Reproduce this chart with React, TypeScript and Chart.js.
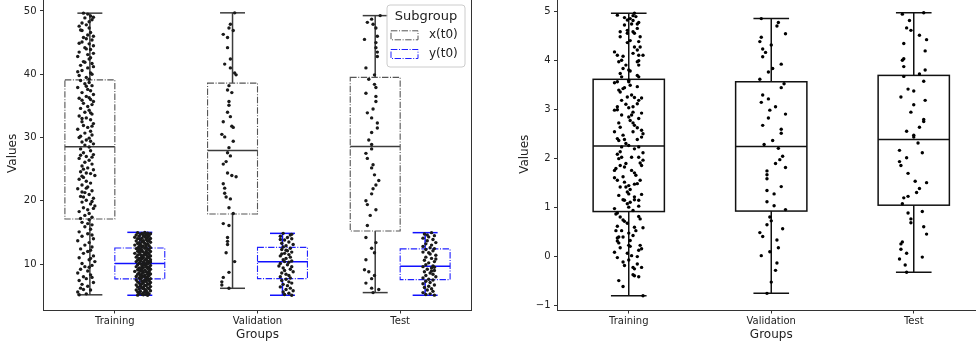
import React, { useEffect, useRef } from 'react';
import { Chart, registerables } from 'chart.js';
Chart.register(...registerables);

const FONT = "'DejaVu Sans', 'Liberation Sans', sans-serif";

const categories = ['Training', 'Validation', 'Test'];
const subgroups = ['x(t0)', 'y(t0)'];
const leftYTicks = [10, 20, 30, 40, 50];
const rightYTicks = [-1, 0, 1, 2, 3, 4, 5];

// box stats: [lower whisker, q1, median, q3, upper whisker]
const leftXStats = [
  [5.15, 17.13, 28.54, 39.11, 49.65],
  [6.18, 17.92, 27.96, 38.6, 49.7],
  [5.5, 15.24, 28.59, 39.5, 49.26],
];
const leftYStats = [
  [5.08, 7.66, 10.08, 12.55, 15.02],
  [5.08, 7.71, 10.39, 12.65, 14.86],
  [5.08, 7.55, 9.65, 12.4, 14.97],
];
const rightStats = [
  [-0.8, 0.92, 2.26, 3.62, 4.97],
  [-0.75, 0.93, 2.25, 3.57, 4.86],
  [-0.32, 1.05, 2.39, 3.7, 4.98],
];

// points: [value, jitter]
const trainXPts = [
  [49.65,-0.02],[49.5,0.01],[49.2,0.03],[48.9,-0.01],[48.6,0.04],[48.1,-0.03],[47.6,-0.05],[47.3,0.02],[47.0,-0.04],[46.6,0.03],[46.2,0.01],[45.8,-0.02],[45.4,0.04],[45.1,-0.03],[44.8,0.02],[44.5,0.05],[44.2,-0.01],[43.9,0.03],[43.5,-0.05],[43.1,0.01],[42.8,-0.06],[42.4,0.02],[42.0,-0.02],[41.7,0.04],[41.4,-0.04],[41.0,0.01],[40.6,-0.03],[40.2,0.03],[39.8,-0.05],[39.5,0.0],[39.2,0.02],
  [49.0,0.05],[48.3,0.02],[47.8,0.0],[46.9,-0.03],[46.0,0.05],[45.6,0.0],[44.9,-0.05],[44.0,0.0],[43.3,0.05],[42.6,0.03],[41.9,-0.01],[41.2,0.05],[40.4,-0.06],[40.0,0.04],
  [39.0,-0.04],[38.7,0.02],[38.5,-0.01],[38.2,0.04],[37.9,-0.06],[37.6,0.01],[37.4,0.03],[37.1,-0.03],[36.8,0.05],[36.5,0.0],[36.2,-0.05],[36.0,0.03],[35.7,0.05],[35.4,-0.02],[35.2,0.04],[34.9,0.01],[34.6,-0.04],[34.3,0.02],[34.0,-0.01],[33.7,0.04],[33.4,-0.05],[33.1,0.0],[32.8,0.03],[32.5,-0.03],[32.2,0.05],[31.9,-0.02],[31.6,0.01],[31.3,-0.06],[31.0,0.03],[30.7,-0.01],[30.4,0.04],[30.2,-0.04],[29.9,0.02],[29.6,0.0],[29.3,-0.03],[29.0,0.05],[28.8,-0.01],[28.5,0.02],
  [28.2,-0.04],[27.9,0.03],[27.6,-0.02],[27.3,0.05],[27.0,0.0],[26.7,-0.05],[26.4,0.02],[26.1,-0.01],[25.8,0.04],[25.5,-0.03],[25.2,0.01],[24.9,0.05],[24.6,-0.04],[24.3,0.03],[24.0,0.06],[23.7,-0.02],[23.4,-0.05],[23.1,0.0],[22.8,0.03],[22.5,-0.03],[22.2,0.01],[21.9,-0.06],[21.6,0.04],[21.3,-0.01],[21.0,0.02],[20.7,-0.04],[20.4,0.05],[20.1,0.0],[19.8,-0.03],[19.5,0.03],[19.2,0.06],[18.9,-0.02],[18.6,0.01],[18.3,-0.05],[18.0,0.02],[17.7,-0.01],[17.4,0.04],[17.2,-0.04],
  [35.9,-0.03],[33.9,0.03],[31.8,0.04],[30.0,-0.05],[26.9,0.04],[25.0,-0.02],[22.0,0.0],[19.9,0.04],[36.3,0.02],[23.9,-0.03],[29.4,0.03],[21.4,-0.03],[27.2,-0.04],[33.0,-0.03],[38.1,0.0],[18.8,0.05],[24.4,0.0],[20.6,-0.02],
  [17.0,0.02],[16.6,-0.03],[16.2,0.04],[15.9,-0.01],[15.5,0.03],[15.1,-0.05],[14.8,0.01],[14.4,-0.03],[14.0,0.05],[13.7,-0.06],[13.4,0.02],[13.0,-0.01],[12.7,0.04],[12.4,-0.04],[12.0,0.01],[11.7,-0.02],[11.3,0.05],[11.0,-0.05],[10.7,0.02],[10.4,0.06],[10.1,-0.03],[9.8,0.04],[9.5,0.02],[9.2,-0.04],[8.9,0.01],[8.6,-0.06],[8.3,0.03],[8.0,-0.02],[7.7,0.0],[7.4,-0.05],[7.1,0.05],[6.8,-0.03],[6.5,0.01],[6.2,-0.04],[5.9,0.03],[5.6,-0.06],[5.3,0.0],[5.15,-0.05],[16.4,0.01],[14.6,0.04],[12.2,0.03],[9.6,-0.01],[7.9,0.04],[6.0,-0.02],[10.9,0.03],
];
const trainYPts = [
  [15.0,0.01],[14.95,-0.04],[14.9,0.03],[14.85,-0.01],[14.8,0.05],[14.7,-0.02],[14.65,0.02],[14.6,-0.05],[14.5,0.0],[14.45,0.04],[14.4,-0.03],[14.3,0.01],[14.25,-0.06],[14.2,0.03],[14.1,-0.01],[14.05,0.05],[14.0,-0.04],[13.9,0.02],[13.85,-0.02],[13.8,0.04],[13.7,0.0],[13.65,-0.05],[13.6,0.03],[13.5,-0.01],[13.45,0.05],[13.4,-0.03],[13.3,0.01],[13.25,-0.04],[13.2,0.03],[13.1,-0.02],[13.05,0.02],[13.0,-0.06],[12.9,0.04],[12.85,0.0],[12.8,-0.03],[12.7,0.02],[12.65,-0.01],[12.6,0.05],[12.55,-0.04],[14.75,0.0],[14.15,0.02],[13.55,0.0],[12.95,-0.02],[13.95,-0.02],[14.55,0.03],
  [12.5,0.01],[12.45,-0.05],[12.4,0.03],[12.3,-0.02],[12.25,0.04],[12.2,-0.01],[12.1,0.02],[12.05,-0.04],[12.0,0.05],[11.9,0.0],[11.85,-0.03],[11.8,0.03],[11.7,-0.06],[11.65,0.01],[11.6,0.04],[11.5,-0.02],[11.45,0.02],[11.4,-0.04],[11.3,0.05],[11.25,-0.01],[11.2,0.03],[11.1,-0.05],[11.05,0.0],[11.0,0.04],[10.9,-0.03],[10.85,0.02],[10.8,-0.01],[10.7,0.05],[10.65,-0.04],[10.6,0.01],[10.5,-0.02],[10.45,0.03],[10.4,-0.05],[10.3,0.0],[10.25,0.04],[10.2,-0.03],[10.1,0.02],[11.95,-0.02],[11.35,0.0],[10.75,0.02],[12.35,-0.03],[11.75,0.02],[10.95,-0.02],[10.35,0.05],
  [10.05,-0.02],[10.0,0.03],[9.9,-0.04],[9.85,0.01],[9.8,0.05],[9.7,-0.01],[9.65,0.02],[9.6,-0.05],[9.5,0.04],[9.45,0.0],[9.4,-0.03],[9.3,0.03],[9.25,-0.01],[9.2,0.05],[9.1,-0.04],[9.05,0.01],[9.0,-0.02],[8.9,0.04],[8.85,-0.06],[8.8,0.02],[8.7,0.0],[8.65,-0.03],[8.6,0.03],[8.5,-0.01],[8.45,0.05],[8.4,-0.04],[8.3,0.01],[8.25,-0.02],[8.2,0.04],[8.1,0.0],[8.05,-0.05],[8.0,0.03],[7.9,-0.01],[7.85,0.02],[7.8,-0.03],[7.7,0.05],[9.95,0.0],[9.35,-0.02],[8.75,0.04],[8.15,-0.02],[9.55,0.02],[8.95,-0.01],[8.35,0.03],[7.95,0.01],
  [7.65,-0.02],[7.6,0.03],[7.5,-0.05],[7.45,0.01],[7.4,0.04],[7.3,-0.01],[7.25,0.02],[7.2,-0.04],[7.1,0.05],[7.05,0.0],[7.0,-0.03],[6.9,0.03],[6.85,-0.01],[6.8,0.04],[6.7,-0.05],[6.65,0.01],[6.6,0.02],[6.5,-0.02],[6.45,0.05],[6.4,-0.04],[6.3,0.0],[6.25,0.03],[6.2,-0.01],[6.1,0.04],[6.05,-0.03],[6.0,0.01],[5.9,-0.05],[5.85,0.02],[5.8,0.05],[5.7,-0.02],[5.65,0.01],[5.6,-0.04],[5.5,0.03],[5.45,0.0],[5.4,-0.03],[5.3,0.04],[5.25,-0.01],[5.2,0.02],[5.1,-0.04],[5.08,0.03],[7.35,0.0],[6.75,-0.02],[6.15,0.0],[5.55,0.02],[5.15,0.0],
];
const valXPts = [
  [49.7,0.04],[47.9,0.01],[47.3,0.0],[46.9,0.03],[46.3,-0.04],[45.8,-0.01],[44.2,-0.01],[42.4,0.01],[41.6,-0.03],[41.0,0.01],[40.2,0.04],[39.9,0.05],[38.2,0.0],[37.5,-0.01],[37.1,0.02],[35.7,0.0],[35.1,0.0],[34.0,-0.01],[33.3,0.01],[32.5,-0.04],[31.8,0.02],[31.6,0.03],[30.5,-0.05],[30.1,-0.03],[29.4,0.03],[28.4,0.0],[27.6,-0.01],[27.1,0.01],[26.2,-0.02],[25.8,-0.04],[24.4,-0.01],[24.0,0.02],[23.8,0.05],[22.7,-0.04],[22.0,-0.03],[21.2,-0.03],[20.6,-0.02],[20.3,0.01],[18.9,0.0],[18.0,0.03],[16.4,-0.04],[16.1,0.0],[14.2,-0.01],[13.6,-0.01],[13.1,-0.01],[11.8,-0.02],[10.4,0.04],[8.7,0.0],[7.9,-0.04],[7.2,-0.05],[6.7,-0.05],[6.18,0.0],
];
const valYPts = [
  [14.86,-0.02],[14.6,0.03],[14.4,-0.04],[14.2,0.01],[14.0,0.04],[13.8,-0.01],[13.5,0.02],[13.3,-0.03],[13.1,0.05],[12.9,0.0],[12.7,-0.02],[14.7,0.04],[13.9,-0.04],
  [12.5,0.03],[12.3,-0.03],[12.1,0.01],[11.9,0.04],[11.7,-0.01],[11.5,0.02],[11.3,-0.04],[11.1,0.03],[10.9,0.0],[10.7,-0.02],[10.5,0.04],[11.6,-0.03],[12.2,0.0],[10.4,-0.01],
  [10.3,0.02],[10.1,-0.04],[9.9,0.01],[9.6,0.04],[9.4,-0.02],[9.2,0.03],[9.0,-0.01],[8.8,0.05],[8.6,-0.03],[8.4,0.0],[8.2,0.02],[8.0,-0.04],[7.8,0.03],[9.7,-0.05],
  [7.6,0.0],[7.4,-0.03],[7.2,0.02],[7.0,0.04],[6.8,-0.02],[6.6,0.01],[6.4,-0.04],[6.2,0.03],[6.0,0.0],[5.8,0.05],[5.6,-0.02],[5.4,0.02],[5.2,-0.01],[5.08,0.04],
];
const testXPts = [
  [49.26,0.06],[48.7,0.0],[47.9,0.01],[47.3,0.03],[45.5,-0.05],[45.0,0.03],[44.2,0.03],[43.5,0.04],[42.8,0.04],[41.0,-0.04],[39.9,0.02],[38.4,0.02],[37.9,0.03],[37.0,-0.04],[36.5,0.03],[35.7,0.03],[33.9,-0.03],[33.1,0.0],[32.3,0.04],[31.5,0.04],[30.8,0.0],[28.9,0.0],[28.2,0.0],[27.5,-0.04],[26.7,-0.03],[25.7,0.01],[25.2,0.0],[23.2,0.05],[22.5,0.03],[21.9,0.01],[21.1,0.0],[20.0,-0.04],[19.4,-0.03],[17.7,-0.01],[16.1,-0.03],[14.2,-0.04],[13.4,0.03],[11.8,0.02],[10.7,-0.04],[9.1,-0.05],[8.2,0.02],[7.7,0.0],[7.0,-0.04],[6.2,0.0],[6.0,0.05],
  [48.2,-0.03],[46.0,0.04],[39.2,-0.02],[34.5,0.01],[29.6,-0.02],[24.1,0.02],[18.6,0.03],[12.5,0.0],[8.8,-0.02],[5.5,0.01],
];
const testYPts = [
  [14.97,0.02],[14.75,-0.03],[14.5,0.04],[14.3,0.0],[14.1,-0.04],[13.9,0.03],[13.7,-0.01],[13.4,0.05],[13.2,-0.02],[13.0,0.02],[12.8,-0.04],[12.6,0.01],[12.45,0.04],[14.6,-0.01],
  [12.3,-0.02],[12.1,0.03],[11.9,-0.04],[11.6,0.01],[11.4,0.05],[11.1,-0.02],[10.9,0.02],[10.6,-0.03],[10.4,0.04],[10.2,0.0],[9.9,-0.02],[9.7,0.03],[11.8,0.0],[10.8,0.05],
  [9.6,-0.04],[9.4,0.02],[9.2,-0.01],[9.0,0.04],[8.8,-0.03],[8.6,0.01],[8.4,0.03],[8.2,-0.02],[8.0,0.05],[7.8,-0.04],[7.6,0.0],[8.9,0.02],[9.5,0.04],
  [7.5,0.03],[7.3,-0.02],[7.1,0.01],[6.9,-0.04],[6.7,0.04],[6.5,0.0],[6.3,-0.03],[6.1,0.02],[5.9,-0.01],[5.7,0.03],[5.5,-0.04],[5.3,0.01],[5.1,0.04],[5.2,-0.02],
];
const rightTrainPts = [
  [4.93,-0.08],[4.88,-0.03],[4.92,0.03],[4.97,0.04],[4.86,0.01],[4.83,-0.01],[4.75,0.06],[4.73,-0.03],[4.75,0.02],[4.78,0.07],[4.59,-0.06],[4.56,-0.01],[4.59,0.03],[4.66,0.06],[4.56,0.04],[4.49,-0.06],[4.49,0.08],[4.41,0.01],[4.37,-0.01],[4.39,0.07],[4.28,0.04],[4.28,0.08],[4.22,0.06],[4.15,0.03],[4.11,0.07],[4.11,0.1],[4.18,-0.1],[4.11,-0.08],[4.09,-0.04],[3.98,-0.07],[4.01,-0.05],[3.91,-0.02],[3.98,0.06],[3.91,0.07],[3.81,0.0],[3.79,0.01],[3.84,-0.04],[3.74,-0.06],[3.7,0.06],[3.67,0.07],[3.6,0.0],[3.55,-0.1],[3.57,-0.08],[4.9,0.05],[4.82,0.03],[4.62,-0.01],[4.0,0.07],[3.67,-0.05],
  [3.4,-0.07],[3.36,-0.06],[3.43,-0.04],[3.45,-0.03],[3.3,0.02],[3.25,0.04],[3.24,0.09],[3.12,0.06],[3.04,0.0],[3.06,0.03],[3.06,-0.08],[3.0,-0.08],[2.95,0.03],[2.93,0.09],[2.89,-0.05],[2.85,0.0],[2.89,0.02],[2.78,0.01],[2.73,0.03],[2.68,0.04],[2.63,0.06],[2.73,-0.07],[2.58,0.09],[2.51,0.1],[2.55,-0.1],[2.44,0.09],[2.41,-0.08],[2.37,-0.07],[2.48,-0.04],[2.31,-0.02],[2.27,0.0],[2.39,-0.03],[2.39,0.06],[3.19,-0.05],[3.26,-0.01],[3.47,0.06],[3.5,0.01],[2.99,-0.1],[2.82,0.07],[2.64,-0.06],[2.55,0.03],[3.11,-0.02],[3.19,0.07],[3.57,0.0],
  [2.24,0.07],[2.2,0.04],[2.12,0.1],[2.09,-0.08],[2.14,-0.06],[2.0,-0.07],[2.03,-0.05],[2.03,0.07],[1.91,0.08],[1.86,0.09],[1.9,-0.02],[1.83,-0.03],[1.76,-0.1],[1.8,-0.09],[1.71,0.04],[1.66,0.05],[1.63,-0.04],[1.61,-0.1],[1.56,0.08],[1.49,0.06],[1.48,0.04],[1.45,0.0],[1.52,-0.03],[1.42,-0.02],[1.37,0.01],[1.32,-0.01],[1.28,0.0],[1.27,0.09],[1.22,0.04],[1.16,-0.04],[1.15,-0.03],[1.11,0.01],[1.08,-0.01],[1.16,0.04],[1.03,0.07],[0.94,0.03],[1.25,-0.07],[1.42,-0.06],[1.76,0.02],[1.56,-0.08],[1.97,0.1],[2.24,-0.05],[2.03,0.02],[1.86,-0.06],[1.15,0.07],[1.01,0.0],
  [0.98,-0.1],[0.89,-0.08],[0.87,-0.09],[0.75,-0.04],[0.72,-0.03],[0.68,-0.01],[0.82,0.07],[0.77,0.08],[0.62,-0.08],[0.53,-0.09],[0.53,-0.05],[0.53,0.05],[0.59,0.1],[0.43,0.03],[0.48,0.0],[0.38,-0.08],[0.4,-0.07],[0.32,-0.08],[0.28,-0.07],[0.4,-0.04],[0.23,0.0],[0.21,0.01],[0.23,0.08],[0.16,0.09],[0.13,0.07],[0.09,-0.1],[0.07,-0.01],[0.0,0.06],[-0.02,-0.08],[-0.07,0.0],[-0.11,-0.04],[-0.15,0.06],[-0.18,-0.03],[-0.22,0.09],[-0.25,0.04],[-0.22,0.03],[-0.39,0.04],[-0.41,0.07],[-0.37,0.03],[-0.49,-0.07],[-0.61,-0.04],[-0.8,0.1],[0.02,0.02],[0.18,-0.06],[0.33,0.01],[0.81,-0.06],[0.6,0.04],
];
const rightValPts = [
  [4.86,-0.07],[4.78,0.05],[4.71,0.04],[4.55,0.1],[4.48,-0.07],[4.39,-0.08],[4.32,0.0],[4.24,-0.06],[4.17,-0.04],[4.08,-0.06],[3.93,0.07],[3.84,0.01],[3.77,-0.02],[3.62,-0.08],[3.53,0.09],[3.45,0.07],[3.3,-0.06],[3.22,-0.02],[3.15,-0.07],[3.06,0.03],[2.99,-0.01],[2.91,0.1],[2.83,-0.02],[2.68,-0.06],[2.6,0.07],[2.52,0.07],[2.37,0.01],[2.29,-0.05],[2.21,0.05],[2.05,0.08],[1.98,0.06],[1.9,0.03],[1.82,0.1],[1.75,-0.03],[1.67,-0.03],[1.59,-0.03],[1.43,0.07],[1.35,-0.03],[1.28,0.02],[1.12,-0.03],[1.04,0.02],[0.96,0.1],[0.81,-0.01],[0.73,0.0],[0.65,-0.03],[0.57,0.08],[0.49,-0.08],[0.41,-0.06],[0.34,0.04],[0.18,0.05],[0.1,-0.01],[0.02,-0.07],[-0.13,0.04],[-0.28,0.03],[-0.52,0.0],[-0.75,-0.03],
];
const rightTestPts = [
  [4.95,-0.08],[4.98,0.07],[4.82,-0.03],[4.67,-0.05],[4.62,-0.02],[4.52,0.04],[4.43,0.09],[4.35,-0.07],[4.2,0.08],[4.04,-0.07],[4.01,-0.08],[3.88,-0.07],[3.81,0.08],[3.73,0.04],[3.68,-0.07],[3.58,0.07],[3.42,-0.04],[3.38,0.0],[3.26,-0.09],[3.19,0.08],[3.1,0.0],[2.95,-0.02],[2.8,0.07],[2.76,0.07],[2.64,0.04],[2.56,-0.05],[2.48,0.0],[2.44,0.0],[2.32,0.03],[2.17,-0.1],[2.12,0.06],[2.02,-0.05],[1.94,-0.1],[1.86,-0.09],[1.7,-0.04],[1.54,0.01],[1.51,0.09],[1.39,0.04],[1.31,0.02],[1.23,-0.04],[1.2,-0.07],[1.08,-0.08],[0.92,0.06],[0.89,-0.04],[0.77,-0.02],[0.69,-0.02],[0.61,0.07],[0.46,0.09],[0.3,-0.08],[0.26,-0.09],[0.15,-0.09],[0.07,-0.05],[-0.05,-0.1],[-0.01,0.06],[-0.17,-0.06],[-0.32,-0.05],
];

const DASHDOT = [6.4, 1.6, 1.0, 1.6];

const boxPlugin = {
  id: 'boxes',
  beforeDatasetsDraw(chart: any, _args: any, opts: any) {
    const { ctx, scales: { x, y }, chartArea } = chart;
    // spines (right + top)
    ctx.save();
    ctx.strokeStyle = '#333';
    ctx.lineWidth = 1;
    ctx.beginPath();
    ctx.moveTo(chartArea.left, chartArea.top);
    ctx.lineTo(chartArea.right, chartArea.top);
    ctx.lineTo(chartArea.right, chartArea.bottom);
    ctx.stroke();
    ctx.restore();
    const line = (x1: number, y1: number, x2: number, y2: number) => {
      ctx.beginPath(); ctx.moveTo(x1, y1); ctx.lineTo(x2, y2); ctx.stroke();
    };
    for (const g of opts.groups || []) {
      g.stats.forEach((s: number[], i: number) => {
        const c = i + g.offset;
        const xl = x.getPixelForValue(c - g.width / 2);
        const xr = x.getPixelForValue(c + g.width / 2);
        const xc = x.getPixelForValue(c);
        const cl = x.getPixelForValue(c - g.cap / 2);
        const cr = x.getPixelForValue(c + g.cap / 2);
        const [lo, q1, med, q3, hi] = s.map((v) => y.getPixelForValue(v));
        ctx.save();
        ctx.strokeStyle = g.color;
        ctx.lineWidth = g.lw;
        ctx.setLineDash([]);
        line(xc, q1, xc, lo);
        line(xc, q3, xc, hi);
        line(cl, lo, cr, lo);
        line(cl, hi, cr, hi);
        line(xl, med, xr, med);
        ctx.strokeStyle = g.boxColor;
        ctx.lineWidth = g.boxLw;
        ctx.setLineDash(g.dash);
        ctx.strokeRect(xl, q3, xr - xl, q1 - q3);
        ctx.restore();
      });
    }
  },
  afterDraw(chart: any, _args: any, opts: any) {
    const lg = opts.legend;
    if (!lg) return;
    const { ctx, chartArea } = chart;
    const r = chartArea.right, t = chartArea.top;
    ctx.save();
    const bx = r - 84.5, by = t + 8.3, bw = 78, bh = 62;
    ctx.beginPath();
    ctx.roundRect(bx, by, bw, bh, 3);
    ctx.fillStyle = 'rgba(255,255,255,0.8)';
    ctx.fill();
    ctx.strokeStyle = '#cccccc';
    ctx.lineWidth = 1;
    ctx.stroke();
    ctx.fillStyle = '#222';
    ctx.textBaseline = 'middle';
    ctx.textAlign = 'center';
    ctx.font = `13px ${FONT}`;
    ctx.fillText(lg.title, bx + bw / 2, t + 20);
    ctx.textAlign = 'left';
    ctx.font = `12px ${FONT}`;
    lg.items.forEach((it: any, k: number) => {
      const cy = t + 38.6 + k * 18.7;
      ctx.strokeStyle = it.color;
      ctx.lineWidth = 1;
      ctx.setLineDash(DASHDOT);
      ctx.strokeRect(r - 80.5, cy - 4.5, 27, 9);
      ctx.setLineDash([]);
      ctx.fillStyle = '#222';
      ctx.fillText(it.label, r - 42.5, cy);
    });
    ctx.restore();
  },
};

function fmt(v: number) {
  return v < 0 ? '\u2212' + Math.abs(v) : String(v);
}

function makeConfig(p: any) {
  return {
    type: 'scatter',
    data: {
      datasets: p.points.map((g: any) => ({
        data: g.pts.map(([v, j]: number[]) => ({ x: g.cat + g.offset + j, y: v })),
        pointRadius: 1.7,
        pointHoverRadius: 0,
        backgroundColor: g.color,
        borderWidth: 0,
      })),
    },
    options: {
      responsive: false,
      animation: false,
      events: [],
      layout: { padding: p.padding },
      plugins: {
        legend: { display: false },
        tooltip: { enabled: false },
        boxes: { groups: p.boxes, legend: p.legend },
      },
      scales: {
        x: {
          type: 'linear',
          min: -0.5,
          max: 2.5,
          afterBuildTicks: (s: any) => { s.ticks = categories.map((_, i) => ({ value: i })); },
          afterFit: (s: any) => { s.height = 33; },
          ticks: {
            callback: (v: number) => categories[Math.round(v)],
            font: { family: FONT, size: 10 },
            color: '#222',
            padding: 2,
            autoSkip: false,
            maxRotation: 0,
          },
          grid: { drawOnChartArea: false, drawTicks: true, tickLength: 3.5, tickWidth: 1, tickColor: '#333' },
          border: { display: true, color: '#333', width: 1 },
          title: { display: true, text: 'Groups', font: { family: FONT, size: 12 }, color: '#222', padding: { top: 0, bottom: 0.8 } },
        },
        y: {
          type: 'linear',
          min: p.ymin,
          max: p.ymax,
          afterBuildTicks: (s: any) => { s.ticks = p.yticks.map((v: number) => ({ value: v })); },
          afterFit: (s: any) => { s.width = p.yWidth; },
          ticks: { callback: (v: number) => fmt(v), font: { family: FONT, size: 10 }, color: '#222', padding: 3.5 },
          grid: { drawOnChartArea: false, drawTicks: true, tickLength: 3.5, tickWidth: 1, tickColor: '#333' },
          border: { display: true, color: '#333', width: 1 },
          title: { display: true, text: 'Values', font: { family: FONT, size: 12 }, color: '#222', padding: { top: p.yTitlePad, bottom: 0 } },
        },
      },
    },
    plugins: [boxPlugin],
  };
}

const leftPanel = {
  padding: { top: 16.7, bottom: 4, left: 0, right: 8.5 },
  ymin: 2.75,
  ymax: 52.25,
  yticks: leftYTicks,
  yWidth: 43.5,
  yTitlePad: 5.8,
  points: [
    { cat: 0, offset: -0.2, pts: trainXPts, color: '#1a1a1a' },
    { cat: 0, offset: 0.2, pts: trainYPts, color: '#1a1a1a' },
    { cat: 1, offset: -0.2, pts: valXPts, color: '#1a1a1a' },
    { cat: 1, offset: 0.2, pts: valYPts, color: '#1a1a1a' },
    { cat: 2, offset: -0.2, pts: testXPts, color: '#1a1a1a' },
    { cat: 2, offset: 0.2, pts: testYPts, color: '#1a1a1a' },
  ],
  boxes: [
    { stats: leftXStats, offset: -0.175, width: 0.35, cap: 0.175, color: '#3c3c3c', lw: 1.5, boxColor: '#555555', boxLw: 1.1, dash: DASHDOT },
    { stats: leftYStats, offset: 0.175, width: 0.35, cap: 0.175, color: '#1010ff', lw: 1.5, boxColor: '#2020ff', boxLw: 1.1, dash: DASHDOT },
  ],
  legend: {
    title: 'Subgroup',
    items: [
      { label: subgroups[0], color: '#555555' },
      { label: subgroups[1], color: '#2020ff' },
    ],
  },
};

const rightPanel = {
  padding: { top: 18.5, bottom: 4, left: 0, right: 5 },
  ymin: -1.09,
  ymax: 5.27,
  yticks: rightYTicks,
  yWidth: 67.5,
  yTitlePad: 28.1,
  points: [
    { cat: 0, offset: 0, pts: rightTrainPts, color: '#000' },
    { cat: 1, offset: 0, pts: rightValPts, color: '#000' },
    { cat: 2, offset: 0, pts: rightTestPts, color: '#000' },
  ],
  boxes: [
    { stats: rightStats, offset: 0, width: 0.5, cap: 0.25, color: '#111', lw: 1.5, boxColor: '#111', boxLw: 1.5, dash: [] },
  ],
  legend: null,
};

export default function App() {
  const leftRef = useRef<HTMLCanvasElement>(null);
  const rightRef = useRef<HTMLCanvasElement>(null);
  useEffect(() => {
    const a = new Chart(leftRef.current as any, makeConfig(leftPanel) as any);
    const b = new Chart(rightRef.current as any, makeConfig(rightPanel) as any);
    return () => { a.destroy(); b.destroy(); };
  }, []);
  return (
    <div style={{ position: 'absolute', left: 0, top: 0, width: 976, height: 347, overflow: 'hidden', background: '#fff' }}>
      <canvas ref={leftRef} width={480} height={367} style={{ position: 'absolute', left: 0, top: -20 }} />
      <canvas ref={rightRef} width={500} height={367} style={{ position: 'absolute', left: 490, top: -20 }} />
    </div>
  );
}
